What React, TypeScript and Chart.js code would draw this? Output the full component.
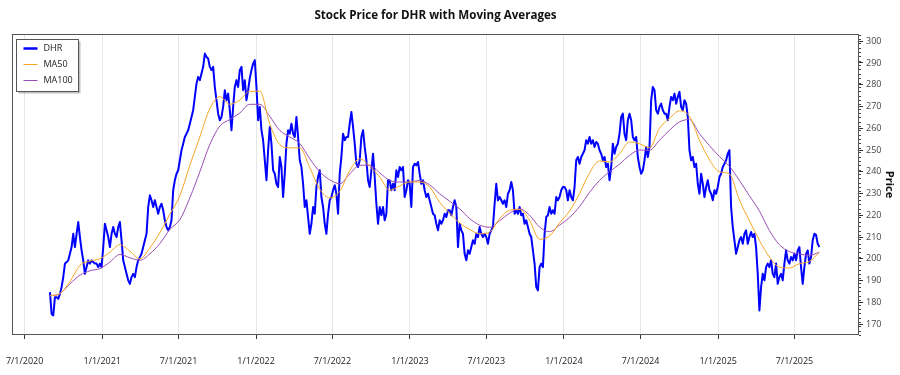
import React, { useEffect, useRef } from 'react';
import { Chart, registerables } from 'chart.js';

Chart.register(...registerables);

const TITLE = 'Stock Price for DHR with Moving Averages';
const Y_TITLE = 'Price';
const SERIES_NAMES = ['DHR', 'MA50', 'MA100'];
const SERIES_COLORS = ['#0000ff', '#f6a623', '#9a4cb4'];

// first / last trading day shown, and axis range
const START_DATE = '2020-08-30';
const END_DATE = '2025-08-29';
const AXIS_MIN_DATE = '2020-06-01';
const AXIS_MAX_DATE = '2025-12-01';
const X_TICK_DATES = [
  '2020-07-01', '2021-01-01', '2021-07-01', '2022-01-01', '2022-07-01', '2023-01-01',
  '2023-07-01', '2024-01-01', '2024-07-01', '2025-01-01', '2025-07-01',
];
const Y_TICKS = [170, 180, 190, 200, 210, 220, 230, 240, 250, 260, 270, 280, 290, 300];
const Y_MIN = 165;
const Y_MAX = 303.3;

// DHR closing price, evenly spaced samples from START_DATE to END_DATE
const DHR_PRICE = [
  184.7, 174.7, 174.0, 182.4, 182.4, 181.6, 183.9, 187.0, 191.6, 197.8,
  198.5, 199.3, 202.3, 205.4, 211.5, 205.4, 211.5, 216.9, 210.0, 203.9,
  199.3, 193.1, 196.2, 199.3, 197.8, 199.3, 198.5, 197.8, 197.8, 196.2,
  197.8, 196.2, 205.4, 216.1, 213.1, 210.0, 205.4, 211.5, 214.6, 211.5,
  210.0, 214.6, 216.9, 208.5, 199.3, 196.2, 193.1, 190.1, 188.5, 191.6,
  193.1, 191.6, 196.2, 199.3, 200.8, 202.3, 205.4, 208.5, 211.5, 223.8,
  229.2, 226.9, 223.8, 226.9, 223.8, 220.7, 223.8, 225.3, 222.3, 217.7,
  214.6, 213.1, 214.6, 217.7, 231.5, 236.1, 239.1, 240.7, 245.3, 249.9,
  252.9, 256.0, 257.5, 259.1, 262.1, 265.2, 268.3, 274.4, 280.5, 283.6,
  282.1, 285.1, 288.2, 294.3, 292.8, 292.0, 288.2, 286.7, 288.2, 279.0,
  272.9, 266.7, 263.7, 265.2, 269.8, 277.5, 272.9, 275.9, 268.3, 259.1,
  269.8, 279.0, 282.1, 279.0, 286.7, 288.2, 277.5, 282.1, 272.9, 277.5,

  283.0, 286.7, 289.7, 291.3, 279.0, 263.7, 269.8, 259.1, 254.5, 245.3,
  236.1, 249.9, 260.6, 252.9, 240.7, 239.1, 234.5, 233.0, 246.8, 242.2,
  228.4, 239.1, 252.9, 259.1, 257.5, 262.1, 257.5, 256.0, 265.2, 256.0,
  245.3, 242.2, 234.5, 223.8, 226.9, 219.2, 211.5, 216.1, 223.8, 220.7,
  233.0, 237.6, 240.7, 228.4, 223.8, 216.1, 211.5, 220.7, 226.9, 228.4,
  231.5, 233.8, 229.9, 220.7, 239.1, 246.8, 257.5, 254.5, 256.0, 256.0,
  262.1, 267.5, 260.6, 252.9, 243.7, 242.2, 245.3, 256.0, 259.1, 251.4,
  245.3, 236.1, 233.0, 240.7, 248.3, 237.6, 225.3, 216.1, 223.8, 220.0,
  223.8, 217.7, 220.7, 236.1, 236.1, 231.5, 234.5, 231.5, 240.7, 237.6,
  242.2, 240.7, 242.2, 228.4, 231.5, 236.1, 234.5, 223.8, 242.2, 243.7,
  243.0, 244.5, 239.1, 234.5, 236.1, 231.5, 228.4, 229.9, 226.9, 223.8,
  220.7, 220.0, 216.1, 213.1, 217.7, 216.1, 217.7, 220.7, 219.2, 222.3,

  222.3, 220.0, 223.8, 226.9, 223.8, 205.4, 216.1, 213.1, 211.5, 202.3,
  199.3, 203.9, 202.3, 205.4, 208.5, 206.9, 211.5, 210.0, 214.6, 211.5,
  210.0, 211.5, 210.0, 206.9, 211.5, 213.1, 214.6, 225.3, 234.5, 226.9,
  228.4, 226.9, 225.3, 226.9, 223.8, 229.9, 231.5, 235.3, 231.5, 220.7,
  222.3, 220.7, 223.8, 220.0, 220.7, 216.1, 217.7, 214.6, 211.5, 210.0,
  203.9, 197.8, 187.0, 185.5, 196.2, 197.8, 196.2, 211.5, 219.2, 220.0,
  223.8, 220.7, 222.3, 220.7, 228.4, 226.9, 228.4, 231.5, 233.0, 233.0,
  231.5, 226.9, 231.5, 228.4, 226.9, 233.0, 245.3, 246.8, 243.7, 246.8,
  248.3, 249.9, 254.5, 252.9, 256.0, 252.9, 254.5, 251.4, 253.7, 252.9,
  249.9, 248.3, 245.3, 246.8, 242.2, 243.7, 236.1, 242.2, 252.9, 248.3,
  251.4, 252.9, 257.5, 265.2, 266.7, 257.5, 254.5, 263.7, 266.7, 263.7,
  256.0, 254.5, 256.0, 246.8, 242.2, 239.1, 240.7, 245.3, 251.4, 246.8,

  251.4, 272.9, 279.0, 277.5, 268.3, 266.7, 269.8, 271.3, 268.3, 266.7,
  266.7, 263.7, 269.8, 274.4, 272.9, 275.9, 271.3, 274.4, 276.7, 269.8,
  268.3, 272.9, 271.3, 265.2, 249.9, 245.3, 246.8, 242.2, 243.7, 234.5,
  229.9, 239.1, 234.5, 228.4, 233.0, 236.1, 231.5, 229.9, 226.9, 231.5,
  229.9, 233.0, 237.6, 239.1, 242.2, 243.7, 245.3, 248.3, 249.9, 223.8,
  214.6, 208.5, 202.3, 205.4, 208.5, 210.0, 206.9, 211.5, 213.1, 206.9,
  210.0, 212.3, 210.0, 211.5, 205.4, 193.1, 176.3, 187.0, 193.1, 190.1,
  196.2, 197.8, 196.2, 199.3, 193.1, 191.6, 197.8, 188.5, 191.6, 193.1,
  190.1, 197.8, 203.9, 199.3, 197.8, 200.8, 199.3, 202.3, 199.3, 203.9,
  205.4, 196.2, 188.5, 196.2, 202.3, 203.9, 197.8, 200.8, 208.5, 211.5,
  211.0, 206.9, 205.4,
];

// moving averages, evenly spaced samples over the same date span
const MA50 = [
  183.0, 184.0, 189.5, 197.0, 199.0, 200.0, 203.0, 206.5, 203.5, 200.0,
  205.0, 212.0, 220.5, 229.0, 243.0, 256.0, 269.0, 274.5, 271.0, 273.0,
  277.0, 277.0, 262.0, 252.5, 251.0, 251.0, 242.0, 232.0, 228.0, 231.0,
  240.5, 246.0, 242.5, 237.6, 231.5, 233.5, 235.3, 235.3, 233.0, 226.0,
  221.0, 216.5, 213.5, 211.5, 212.3, 218.4, 222.3, 222.7, 217.7, 209.0,
  210.5, 216.5, 222.0, 230.0, 239.5, 245.0, 244.5, 248.3, 253.7, 252.9,
  251.0, 260.0, 264.5, 268.0, 265.5, 254.5, 245.5, 240.0, 239.0, 227.0,
  217.5, 208.5, 200.8, 196.2, 195.8, 197.8, 198.8, 203.0,
];

const MA100 = [
  183.0, 184.0, 188.5, 192.5, 194.5, 195.5, 198.5, 202.0, 200.5, 199.3,
  202.3, 207.0, 213.5, 218.0, 228.0, 240.0, 252.5, 261.0, 264.0, 267.0,
  271.0, 271.0, 265.5, 259.0, 256.0, 253.0, 246.0, 240.0, 236.3, 234.5,
  239.0, 243.0, 243.0, 239.5, 236.0, 235.3, 235.3, 236.0, 234.0, 229.9,
  226.5, 223.0, 218.5, 215.5, 214.5, 217.5, 221.0, 223.0, 220.0, 214.6,
  212.5, 215.5, 219.0, 224.0, 230.5, 236.0, 240.0, 243.5, 247.5, 250.0,
  249.9, 254.5, 259.1, 262.9, 264.0, 257.5, 252.0, 247.0, 242.5, 236.0,
  229.0, 222.0, 213.0, 206.5, 203.3, 202.2, 201.6, 203.0,
];

const FONT = '"Open Sans", "Noto Sans", sans-serif';

const toMs = (d: string) => new Date(d + 'T00:00:00Z').getTime();
const fmtDate = (ms: number) => {
  const d = new Date(ms);
  return `${d.getUTCMonth() + 1}/${d.getUTCDate()}/${d.getUTCFullYear()}`;
};

const spread = (values: number[]) => {
  const a = toMs(START_DATE);
  const b = toMs(END_DATE);
  const n = values.length;
  return values.map((y, i) => ({ x: a + ((b - a) * i) / (n - 1), y }));
};

const framePlugin = {
  id: 'frameAndLegend',
  afterDraw(chart: any) {
    const { ctx, chartArea: a, scales } = chart;
    const ys = scales.y;
    ctx.save();
    // chart title, centred over the plot area
    ctx.font = `bold 11.6px ${FONT}`;
    ctx.fillStyle = '#111';
    ctx.textAlign = 'center';
    ctx.textBaseline = 'middle';
    ctx.fillText(TITLE, (a.left + a.right) / 2, 15.5);

    // minor ticks on the right axis
    ctx.strokeStyle = '#444';
    ctx.lineWidth = 1;
    for (let v = Math.ceil(Y_MIN); v <= Math.floor(Y_MAX); v += 2) {
      const py = Math.round(ys.getPixelForValue(v)) + 0.5;
      ctx.beginPath();
      ctx.moveTo(a.right, py);
      ctx.lineTo(a.right + 2, py);
      ctx.stroke();
    }
    // plot frame
    ctx.strokeStyle = '#555';
    ctx.lineWidth = 1;
    ctx.strokeRect(Math.round(a.left) + 0.5, Math.round(a.top) + 0.5,
      Math.round(a.right - a.left) - 1, Math.round(a.bottom - a.top) - 1);

    // legend box
    const lx = a.left + 4.5, ly = a.top + 5.5, lw = 62, lh = 52;
    ctx.fillStyle = 'rgba(0,0,0,0.25)';
    ctx.fillRect(lx + 2, ly + 2, lw, lh);
    ctx.fillStyle = '#ffffff';
    ctx.fillRect(lx, ly, lw, lh);
    ctx.strokeStyle = '#555';
    ctx.lineWidth = 1;
    ctx.strokeRect(lx, ly, lw, lh);
    ctx.font = `9px ${FONT}`;
    ctx.textBaseline = 'middle';
    ctx.textAlign = 'left';
    SERIES_NAMES.forEach((name, i) => {
      const cy = ly + 9 + i * 16;
      ctx.strokeStyle = SERIES_COLORS[i];
      ctx.lineWidth = i === 0 ? 2.5 : 1;
      ctx.beginPath();
      ctx.moveTo(lx + 7, cy);
      ctx.lineTo(lx + 21, cy);
      ctx.stroke();
      ctx.fillStyle = '#222';
      ctx.fillText(name, lx + 27, cy);
    });
    ctx.restore();
  },
};

export default function App() {
  const ref = useRef<HTMLCanvasElement | null>(null);
  useEffect(() => {
    if (!ref.current) return;
    const chart = new Chart(ref.current, {
      type: 'line',
      data: {
        datasets: [
          {
            label: SERIES_NAMES[0], data: spread(DHR_PRICE), borderColor: SERIES_COLORS[0],
            borderWidth: 2, pointRadius: 0, tension: 0, order: 3, borderJoinStyle: 'round',
          },
          {
            label: SERIES_NAMES[1], data: spread(MA50), borderColor: SERIES_COLORS[1],
            borderWidth: 1, pointRadius: 0, tension: 0.4, cubicInterpolationMode: 'monotone', order: 1,
          },
          {
            label: SERIES_NAMES[2], data: spread(MA100), borderColor: SERIES_COLORS[2],
            borderWidth: 1, pointRadius: 0, tension: 0.4, cubicInterpolationMode: 'monotone', order: 2,
          },
        ],
      },
      options: {
        responsive: false,
        animation: false,
        layout: { padding: { left: 12, right: 0, top: 34, bottom: 0 } },
        plugins: {
          legend: { display: false },
          tooltip: { enabled: false },
          title: { display: false },
        },
        scales: {
          x: {
            type: 'linear', position: 'bottom',
            min: toMs(AXIS_MIN_DATE), max: toMs(AXIS_MAX_DATE),
            afterBuildTicks: (s: any) => { s.ticks = X_TICK_DATES.map((d) => ({ value: toMs(d) })); },
            afterFit: (s: any) => {
              s.height = 40;
              s.paddingLeft = 0; s.paddingRight = 0; s.paddingTop = 0; s.paddingBottom = 0;
            },
            ticks: {
              callback: (v: any) => fmtDate(Number(v)), autoSkip: false, maxRotation: 0,
              font: { family: FONT, size: 9 }, color: '#222', padding: 17,
            },
            grid: { color: '#e6e6e6', drawTicks: true, tickLength: 4, tickColor: '#333' },
            border: { display: false },
          },
          y: {
            type: 'linear', position: 'right', min: Y_MIN, max: Y_MAX,
            afterBuildTicks: (s: any) => { s.ticks = Y_TICKS.map((v) => ({ value: v })); },
            afterFit: (s: any) => {
              s.width = 41;
              s.paddingLeft = 0; s.paddingRight = 0; s.paddingTop = 0; s.paddingBottom = 0;
            },
            ticks: { font: { family: FONT, size: 9 }, color: '#444', padding: 3 },
            grid: { drawOnChartArea: false, drawTicks: true, tickLength: 4, tickColor: '#333' },
            border: { display: false },
            title: {
              display: true, text: Y_TITLE, color: '#111',
              font: { family: FONT, size: 11, weight: 'bold' }, padding: { top: 4, bottom: 0 },
            },
          },
        },
      },
      plugins: [framePlugin],
    } as any);
    return () => chart.destroy();
  }, []);
  return (
    <div style={{ position: 'fixed', left: 0, top: 0, width: 900, height: 375, background: '#fff' }}>
      <canvas ref={ref} width={900} height={375} style={{ width: 900, height: 375, display: 'block' }} />
    </div>
  );
}
